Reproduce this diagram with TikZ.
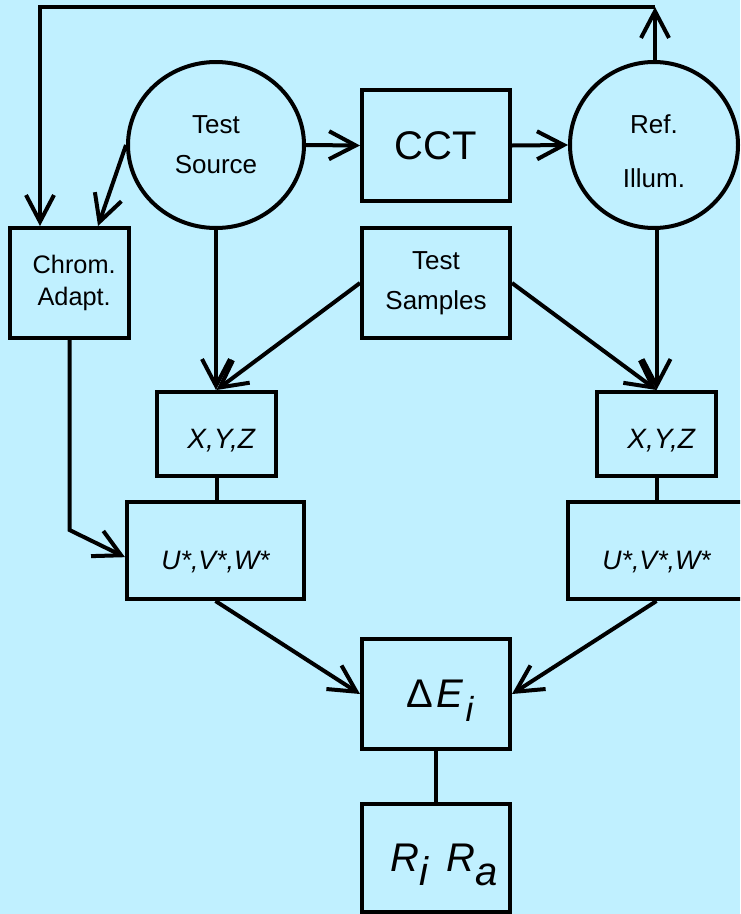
\documentclass[tikz,border=0pt]{standalone}
\usepackage{fontspec}
\setmainfont{Liberation Sans}
\usetikzlibrary{arrows.meta,shapes.geometric}
\definecolor{bgcyan}{RGB}{192,240,255}

\begin{document}
\begin{tikzpicture}[x=0.75pt,y=-0.75pt,
  line width=3pt,
  box/.style={draw, rectangle, inner sep=0pt, align=center},
  disc/.style={draw, ellipse, inner sep=0pt, align=center},
  arr/.style={-{Straight Barb[length=20pt,width=21pt,line cap=butt]}},
  word/.style={font=\fontsize{19.5}{30}\selectfont},
  sym/.style={font=\fontsize{21}{25}\selectfont\itshape},
  big/.style={font=\fontsize{30}{36}\selectfont}
]
% canvas
\fill[bgcyan] (0,0) rectangle (740,914);
\useasboundingbox (0,0) rectangle (740,914);
\clip (0,0) rectangle (740,914);

% sources and CCT
\node[disc, word, minimum width=132pt, minimum height=124.5pt] (ts) at (216,145) {Test\\Source};
\node[box, big, minimum width=111pt, minimum height=83.25pt] (cct) at (436,145.5) {CCT};
\node[disc, minimum width=126pt, minimum height=124.5pt,
  label={[align=center, inner sep=0pt, font=\fontsize{19.5}{40.5}\selectfont, yshift=-4.5pt]center:Ref.\\Illum.}] (ref) at (654,145) {};

% second row
\node[box, minimum width=89.25pt, minimum height=82.5pt, font=\fontsize{19}{24}\selectfont] (chrom) at (69.5,283) {\hspace*{7pt}Chrom.\\\hspace*{7pt}Adapt.};
\node[box, word, minimum width=111pt, minimum height=82.5pt] (samp) at (436,283) {Test\\Samples};

% tristimulus and colour-space boxes
\node[box, sym, minimum width=89.25pt, minimum height=63pt] (xyzL) at (216.5,434) {\hspace*{7pt}\raisebox{-10.5pt}[0pt][0pt]{X,Y,Z}};
\node[box, sym, minimum width=89.25pt, minimum height=63pt] (xyzR) at (656.5,434) {\hspace*{7pt}\raisebox{-10.5pt}[0pt][0pt]{X,Y,Z}};
\node[box, font=\fontsize{20}{24}\selectfont\itshape, minimum width=132.75pt, minimum height=72.75pt] (uvwL) at (215.5,550.5) {\raisebox{-14.6pt}[0pt][0pt]{U*,V*,W*}};
\node[box, font=\fontsize{20}{24}\selectfont\itshape, minimum width=132.75pt, minimum height=72.75pt] (uvwR) at (656.5,550.5) {\raisebox{-14.6pt}[0pt][0pt]{U*,V*,W*}};

% colour difference and rendering index
\node[box, big, minimum width=111pt, minimum height=82.5pt] (dE) at (436,694) {\hspace*{6pt}Δ\kern2pt{\itshape E\kern2pt\raisebox{-10pt}[0pt][0pt]{\fontsize{26}{30}\selectfont i}}};
\node[box, big, minimum width=111pt, minimum height=81pt] (ri) at (436,858) {\hspace*{12pt}\itshape R\raisebox{-10.5pt}[0pt][0pt]{i}\hspace{14pt}R\raisebox{-10.5pt}[0pt][0pt]{a}};

% feedback loop along the top
\coordinate (topR) at (655,7);
\coordinate (topL) at (40,7);
\coordinate (cbend) at (69.5,530);

% connectors
\draw[arr] (ts.east) -- (cct.west);
\draw[arr] (cct.east) -- (ref.west);
\draw[arr] (ts.west) -- ([xshift=21.4pt]chrom.north);
\draw[arr] (ref.north -| topR) -- (topR);
\draw[arr] (topR) -- (topL) -- (topL |- chrom.north);
\draw[arr] (ts.south) -- (ts.south |- xyzL.north);
\draw[arr] (samp.west) -- (xyzL.north);
\draw[arr] (samp.east) -- (xyzR.north);
\draw[arr] (ref.south -| xyzR.north) -- (xyzR.north);
\draw (xyzL.south) -- (xyzL.south |- uvwL.north);
\draw (xyzR.south) -- (uvwR.north);
\draw[arr] (chrom.south) -- (cbend) -- ([yshift=-5pt]uvwL.west);
\draw[arr] (uvwL.south) -- (dE.west);
\draw[arr] (uvwR.south) -- (dE.east);
\draw (dE.south) -- (ri.north);
\end{tikzpicture}
\end{document}
